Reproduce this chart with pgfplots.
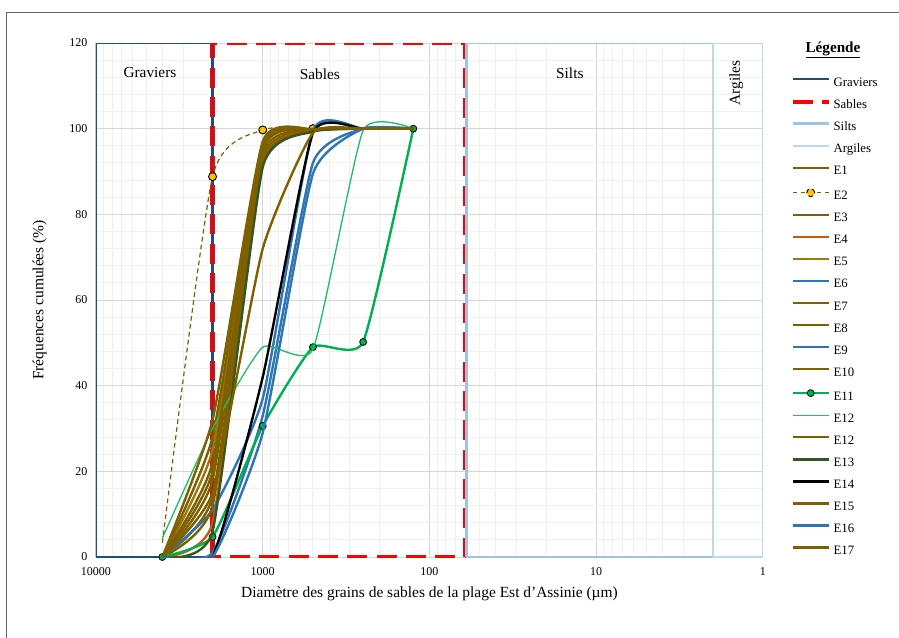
\documentclass[border=0pt]{standalone}
\usepackage{fontspec}
\setmainfont{Liberation Serif}
\usepackage{pgfplots}
\pgfplotsset{compat=1.18}
\definecolor{gravc}{HTML}{1F4E79}
\definecolor{silc}{HTML}{9DC3E6}
\definecolor{argc}{HTML}{BDD7EE}
\definecolor{brn}{HTML}{7F6000}
\definecolor{brn2}{HTML}{9C7A10}
\definecolor{rust}{HTML}{C55A11}
\definecolor{blu}{HTML}{2E75B6}
\definecolor{grn}{HTML}{00B050}
\definecolor{grn2}{HTML}{20C060}
\definecolor{dgrn}{HTML}{375623}
\definecolor{gold}{HTML}{FFC000}
\begin{document}
\begin{tikzpicture}
\useasboundingbox (-72pt,-60pt) rectangle (602.25pt,417.75pt);
\draw[black!60, line width=0.75pt] (-66.75pt,-90pt) rectangle (640pt,408pt);
\begin{axis}[
  at={(0,0)}, anchor=south west,
  scale only axis, width=500.25pt, height=385.5pt,
  xmode=log, x dir=reverse, xmin=1, xmax=10000,
  ymin=0, ymax=120,
  xtick={1,10,100,1000,10000}, xticklabels={1,10,100,1000,10000},
  minor xtick={2,3,4,5,6,7,8,9,20,30,40,50,60,70,80,90,200,300,400,500,600,700,800,900,2000,3000,4000,5000,6000,7000,8000,9000},
  ytick={0,20,40,60,80,100,120},
  minor ytick={4,8,12,16,24,28,32,36,44,48,52,56,64,68,72,76,84,88,92,96,104,108,112,116},
  grid=both,
  major grid style={draw=black!16, line width=0.75pt},
  minor grid style={draw=black!6, line width=0.75pt},
  axis line style={draw=none},
  major tick length=0pt, minor tick length=0pt,
  tick label style={font=\fontsize{9}{10}\selectfont},
  yticklabel style={xshift=-3pt},
  xticklabel style={yshift=-4.5pt},
  /pgf/number format/assume math mode=true,
  xlabel={Diamètre des grains de sables de la plage Est d'Assinie (µm)},
  ylabel={Fréquences cumulées (\%)},
  label style={font=\fontsize{11.6}{13}\selectfont},
  xlabel style={yshift=-1pt},
  ylabel style={yshift=10pt},
  clip mode=individual,
  legend style={
    at={(axis description cs:1.0415,0.933)}, anchor=north west,
    draw=none, fill=none, inner sep=0pt, outer sep=0pt,
    font=\fontsize{9.6}{11}\selectfont,
    row sep=8.05pt,
    nodes={inner sep=0pt, text height=6.5pt, text depth=2pt},
    /tikz/every odd column/.append style={column sep=2.2pt},
  },
  legend cell align=left,
  legend image code/.code={\draw[mark repeat=2,mark phase=2,#1] plot coordinates {(0pt,3pt)(13.4pt,3pt)(26.8pt,3pt)};},
  every axis plot/.append style={line join=round},
]
% zones
\addplot[gravc, line width=1.8pt] coordinates {(10000,0) (10000,120) (2000,120) (2000,0) (10000,0)};
\addlegendentry{Graviers}
\addplot[red, line width=3.2pt, dash pattern=on 15pt off 7pt] coordinates {(2000,0) (2000,120) (61,120) (61,0) (2000,0)};
\addlegendentry{Sables}
\addplot[silc, line width=1.9pt] coordinates {(60,0) (60,120) (2,120) (2,0) (60,0)};
\addlegendentry{Silts}
\addplot[argc, line width=1.9pt] coordinates {(2,0) (2,120) (1,120) (1,0) (2,0)};
\addlegendentry{Argiles}
\addplot[gravc, line width=0.9pt, forget plot] coordinates {(2000,0) (2000,120)};
% samples
\addplot[brn, line width=1.8pt, smooth, tension=0.3] coordinates {(4000,0) (2000,20) (1000,95) (500,99.7) (250,100) (125,100)};
\addlegendentry{E1}
\addplot[brn, line width=0.9pt, smooth, tension=0.35, dash pattern=on 3.5pt off 2.5pt,
  legend image code/.code={\draw[brn, line width=0.9pt, dash pattern=on 3.5pt off 2.5pt] (0pt,3pt)--(26.8pt,3pt); \draw[black, fill=gold, line width=0.7pt] (13.4pt,3pt) circle (3pt);}]
  coordinates {(4000,3.3) (2000,88.8) (1000,99.7) (500,100)};
\addlegendentry{E2}
\addplot[only marks, mark=*, mark size=3pt, mark options={fill=gold, draw=black, line width=0.7pt}, forget plot] coordinates {(2000,88.8) (1000,99.7) (500,100)};
\addplot[brn, line width=1.8pt, smooth, tension=0.3] coordinates {(4000,0) (2000,14) (1000,93) (500,99.5) (250,100) (125,100)};
\addlegendentry{E3}
\addplot[rust, line width=1.8pt, smooth, tension=0.3] coordinates {(4000,0) (2000,8) (1000,92) (500,99.5) (250,100) (125,100)};
\addlegendentry{E4}
\addplot[brn2, line width=1.8pt, smooth, tension=0.3] coordinates {(4000,0) (2000,25) (1000,96) (500,99.8) (250,100) (125,100)};
\addlegendentry{E5}
\addplot[blu, line width=1.8pt, smooth, tension=0.3] coordinates {(4000,0) (2000,11) (1000,37) (500,99.5) (250,100) (125,100)};
\addlegendentry{E6}
\addplot[brn, line width=1.8pt, smooth, tension=0.3] coordinates {(4000,0) (2000,18) (1000,94) (500,99.6) (250,100) (125,100)};
\addlegendentry{E7}
\addplot[brn, line width=1.8pt, smooth, tension=0.3] coordinates {(4000,0) (2000,28) (1000,96.5) (500,99.8) (250,100) (125,100)};
\addlegendentry{E8}
\addplot[blu, line width=1.8pt, smooth, tension=0.3] coordinates {(4000,0) (2000,1) (1000,33) (500,92) (250,100) (125,100)};
\addlegendentry{E9}
\addplot[brn, line width=1.8pt, smooth, tension=0.3] coordinates {(4000,0) (2000,12) (1000,92) (500,99.4) (250,100) (125,100)};
\addlegendentry{E10}
\addplot[grn, line width=1.8pt, smooth, tension=0.3, mark=*, mark size=2.6pt, mark options={fill=grn, draw=black, line width=0.6pt}] coordinates {(4000,0) (2000,4.7) (1000,30.6) (500,49) (250,50.2) (125,100)};
\addlegendentry{E11}
\addplot[grn2, line width=1pt, smooth, tension=0.3] coordinates {(4000,4.4) (2000,30) (1000,49) (500,48.5) (250,99.6) (125,100)};
\addlegendentry{E12}
\addplot[brn, line width=1.8pt, smooth, tension=0.3] coordinates {(4000,0) (2000,22) (1000,95.5) (500,99.7) (250,100) (125,100)};
\addlegendentry{E12}
\addplot[dgrn, line width=1.8pt, smooth, tension=0.3] coordinates {(4000,0) (2000,6) (1000,91) (500,99.3) (250,100) (125,100)};
\addlegendentry{E13}
\addplot[black, line width=1.8pt, smooth, tension=0.3] coordinates {(4000,0) (2000,0) (1000,42) (500,99) (250,100) (125,100)};
\addlegendentry{E14}
\addplot[brn, line width=1.8pt, smooth, tension=0.3] coordinates {(4000,0) (2000,15) (1000,72) (500,99) (250,100) (125,100)};
\addlegendentry{E15}
\addplot[blu, line width=1.8pt, smooth, tension=0.3] coordinates {(4000,0) (2000,0) (1000,29) (500,89.5) (250,100) (125,100)};
\addlegendentry{E16}
\addplot[brn, line width=1.8pt, smooth, tension=0.3] coordinates {(4000,0) (2000,32) (1000,97) (500,99.9) (250,100) (125,100)};
\addlegendentry{E17}
% zone labels
\node[font=\fontsize{11.5}{13}\selectfont] at (axis cs:4746,113.2) {Graviers};
\node[font=\fontsize{11.5}{13}\selectfont] at (axis cs:454,112.8) {Sables};
\node[font=\fontsize{11.5}{13}\selectfont] at (axis cs:14.4,113) {Silts};
\node[font=\fontsize{11.5}{13}\selectfont, rotate=90] at (axis cs:1.45,110.7) {Argiles};
\node[font=\fontsize{11.4}{13}\selectfont] at (axis description cs:1.1049,0.9862) {\underline{\textbf{Légende}}};
\end{axis}
\end{tikzpicture}
\end{document}
